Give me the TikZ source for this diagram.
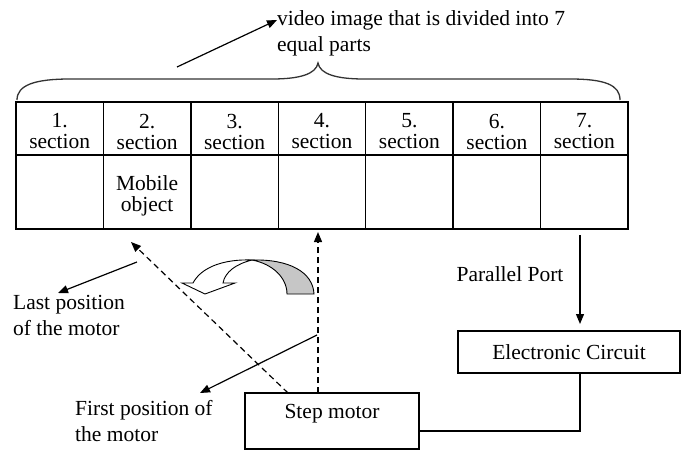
\documentclass[tikz,border=0pt]{standalone}
\usepackage{fontspec}
\setmainfont{Liberation Serif}
\usetikzlibrary{arrows.meta,calc}
\begin{document}
\begin{tikzpicture}[x=1pt,y=-1pt,
  txt/.style={font=\fontsize{21.5}{26}\selectfont, inner sep=0pt},
  celltxt/.style={font=\fontsize{21.5}{21}\selectfont, align=center},
  cell/.style={draw, line width=1.5pt, minimum width=87.43pt, inner sep=0pt, outer sep=0pt},
  box/.style={draw, line width=1.3pt, inner sep=0pt, outer sep=0pt},
  arr/.style={line width=1.2pt, -{Triangle[length=10pt,width=8pt]}},
  darr/.style={arr, dash pattern=on 6pt off 4pt},
  ln/.style={line width=1.3pt},
  thinln/.style={line width=0.9pt}
]
\useasboundingbox (0,0) rectangle (686,450);
\fill[white] (0,0) rectangle (686,450);

% top label and its arrow
\node[txt, anchor=north west, align=left] (vid) at (277,10) {video image that is divided into 7\\equal parts};
\coordinate (vtail) at (177,67);
\draw[arr] (vtail) -- ([yshift=-10pt]vid.north west);

% brace
\draw[line width=1.3pt, black!80] (17,100) .. controls (17,85) and (35,79) .. (70,79) -- (272,79)
  .. controls (300,79) and (316,74) .. (318,63) .. controls (320,74) and (336,79) .. (364,79)
  -- (570,79) .. controls (605,79) and (620,85) .. (620,100);

% table
\foreach \i in {1,...,7} {
  \node[cell, minimum height=53pt] (h\i) at ({16+87.43*(\i-0.5)},128.5) {};
  \node[celltxt, inner sep=0pt] (ht\i) at ($(h\i)+(0,3)$) {\i.\\section};
  \node[cell, minimum height=74pt] (b\i) at ({16+87.43*(\i-0.5)},192) {};
}
\node[celltxt, inner sep=0pt] (mob) at ($(b2)+(0,4)$) {Mobile\\object};

% boxes
\node[box, minimum width=174pt, minimum height=56pt] (stepm) at (332,421) {};
\node[txt, anchor=base] (steptxt) at ($(stepm.north)+(0,25)$) {Step motor};
\node[box, minimum width=222pt, minimum height=42pt, font=\fontsize{21.5}{26}\selectfont] (ec) at (569,352) {Electronic Circuit};

% parallel port
\coordinate (pp) at (580,235);
\draw[arr] (pp) -- ($(ec.north -| pp)+(0,-7)$);
\node[txt, anchor=base] (pptxt) at (510,281) {Parallel Port};
\coordinate (ecb) at (ec.south -| pp);
\draw[ln] (ecb) |- ($(stepm.east)+(0,10)$);

% dashed arrows from the motor
\coordinate (vx) at (318,0);
\draw[darr] (stepm.north -| vx) -- ($(b4.south -| vx)+(0,3)$);
\coordinate (dx) at (288,0);
\coordinate (dtip) at (131,242);
\draw[darr] (stepm.north -| dx) -- (dtip);

% position labels
\node[txt, anchor=north west, align=left] (lastpos) at (13,295) {Last position\\of the motor};
\coordinate (lpstart) at (137,262);
\draw[arr] (lpstart) -- ($(lastpos.north west)+(45,-2)$);
\node[txt, anchor=north west, align=left] (firstpos) at (75,400) {First position of\\the motor};
\coordinate (fpstart) at (317,335);
\draw[arr] (fpstart) -- ($(firstpos.north west)+(125,-7)$);

% curved rotation arrow
\draw[thinln, fill=white] (182,283) -- (193,283) .. controls (202,266) and (226,259) .. (252,260)
  .. controls (236,264) and (225,272) .. (223,283) -- (235,283) -- (205,294) -- cycle;
\draw[thinln, fill=gray!45] (252,260) .. controls (289,259) and (313,272) .. (314,294) -- (287,294)
  .. controls (287,278) and (273,264) .. (252,260) -- cycle;
\end{tikzpicture}
\end{document}
